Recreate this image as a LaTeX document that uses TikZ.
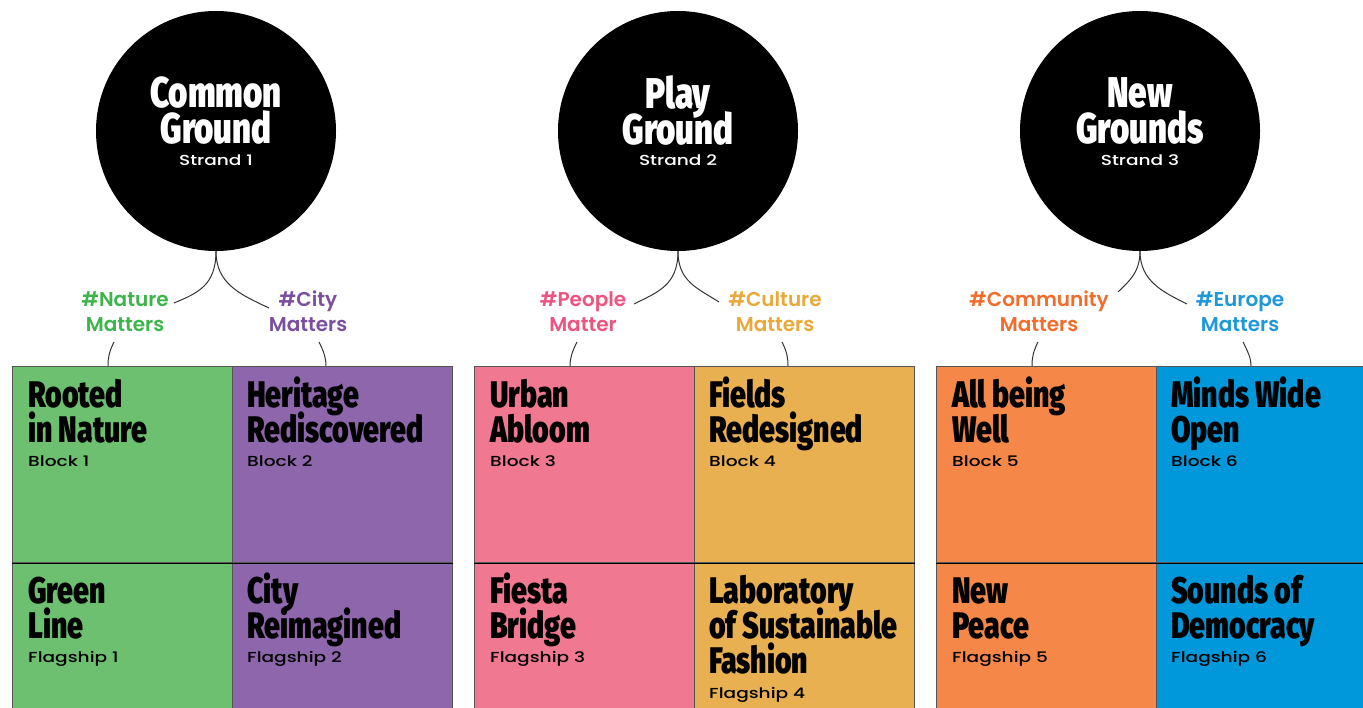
\documentclass[tikz,border=0pt]{standalone}
\usepackage{fontspec}
\setmainfont{Poppins}
\newfontfamily\titlefont[FakeStretch=0.77]{Fira Sans Black}
\newfontfamily\smallfont[FakeStretch=1.28]{Poppins Medium}
\newfontfamily\tagfont{Poppins SemiBold}
\newcommand\myfirst[1]{\rule{0pt}{#1}}
\newcommand\tightlines{\setlength{\lineskiplimit}{-100pt}}
\newcommand\ctfont{\titlefont\fontsize{43}{36}\selectfont\tightlines}
\newcommand\btfont{\titlefont\fontsize{37}{35}\selectfont\tightlines}
\newcommand\tgfont{\tagfont\fontsize{20}{25}\selectfont\tightlines}
\newcommand\sbfont{\smallfont\fontsize{14.5}{16}\selectfont}
\definecolor{fgreen}{HTML}{6CC070}
\definecolor{fpurple}{HTML}{8E66AC}
\definecolor{fpink}{HTML}{F07891}
\definecolor{fyellow}{HTML}{E8B050}
\definecolor{forange}{HTML}{F58848}
\definecolor{fblue}{HTML}{0097DB}
\definecolor{tgreen}{HTML}{3DB54A}
\definecolor{tpurple}{HTML}{7B4FA0}
\definecolor{tpink}{HTML}{EE5480}
\definecolor{tyellow}{HTML}{E9A93A}
\definecolor{torange}{HTML}{F26D2C}
\definecolor{tblue}{HTML}{1E98D8}
\definecolor{edge}{HTML}{555555}
\begin{document}
\begin{tikzpicture}[x=1pt,y=-1pt,
  strand/.style={circle,fill=black,minimum size=240pt,inner sep=0pt},
  ctitle/.style={text=white,align=center,inner sep=0pt,anchor=north,font=\ctfont},
  csub/.style={text=white,inner sep=0pt,anchor=base,font=\sbfont},
  tag/.style={align=center,inner sep=0pt,anchor=north,font=\tgfont},
  cell/.style={draw=edge,line width=1.3pt,minimum width=220pt,inner sep=0pt,anchor=north west},
  btitle/.style={align=left,inner sep=0pt,anchor=north west,font=\btfont},
  bsub/.style={inner sep=0pt,anchor=base west,font=\sbfont},
  conn/.style={draw=black!80,line width=1pt},
  mid/.style={draw=black,line width=1.3pt}]
\useasboundingbox (0,0) rectangle (1363,708);
\clip (0,0) rectangle (1363,708);
\fill[white] (0,0) rectangle (1363,708);

% ---------- cells ----------
\node[cell,fill=fgreen,minimum height=196pt] (b1) at (12,366) {};
\node[cell,fill=fpurple,minimum height=196pt] (b2) at (232,366) {};
\node[cell,fill=fgreen,minimum height=160pt] (f1) at (12,562) {};
\node[cell,fill=fpurple,minimum height=160pt] (f2) at (232,562) {};
\node[cell,fill=fpink,minimum height=196pt] (b3) at (474,366) {};
\node[cell,fill=fyellow,minimum height=196pt] (b4) at (694,366) {};
\node[cell,fill=fpink,minimum height=160pt] (f3) at (474,562) {};
\node[cell,fill=fyellow,minimum height=160pt] (f4) at (694,562) {};
\node[cell,fill=forange,minimum height=196pt] (b5) at (936,366) {};
\node[cell,fill=fblue,minimum height=196pt] (b6) at (1156,366) {};
\node[cell,fill=forange,minimum height=160pt] (f5) at (936,562) {};
\node[cell,fill=fblue,minimum height=160pt] (f6) at (1156,562) {};
\draw[mid] (b1.south west) -- (b2.south east);
\draw[mid] (b3.south west) -- (b4.south east);
\draw[mid] (b5.south west) -- (b6.south east);

% ---------- cell texts ----------
\node[btitle] (t1) at (28,377) {\myfirst{30pt}Rooted\\in Nature};
\node[bsub] (s1) at (28,467) {Block 1};
\node[btitle] (t2) at (247,377) {\myfirst{30pt}Heritage\\Rediscovered};
\node[bsub] (s2) at (247,467) {Block 2};
\node[btitle] (t3) at (490,377) {\myfirst{30pt}Urban\\Abloom};
\node[bsub] (s3) at (490,467) {Block 3};
\node[btitle] (t4) at (709,377) {\myfirst{30pt}Fields\\Redesigned};
\node[bsub] (s4) at (709,467) {Block 4};
\node[btitle] (t5) at (952,377) {\myfirst{30pt}All being\\Well};
\node[bsub] (s5) at (952,467) {Block 5};
\node[btitle] (t6) at (1171,377) {\myfirst{30pt}Minds Wide\\Open};
\node[bsub] (s6) at (1171,467) {Block 6};

\node[btitle] (u1) at (28,573) {\myfirst{30pt}Green\\Line};
\node[bsub] (v1) at (28,662) {Flagship 1};
\node[btitle] (u2) at (247,573) {\myfirst{30pt}City\\Reimagined};
\node[bsub] (v2) at (247,662) {Flagship 2};
\node[btitle] (u3) at (490,573) {\myfirst{30pt}Fiesta\\Bridge};
\node[bsub] (v3) at (490,662) {Flagship 3};
\node[btitle] (u4) at (709,573) {\myfirst{30pt}Laboratory\\of Sustainable\\Fashion};
\node[bsub] (v4) at (709,698) {Flagship 4};
\node[btitle] (u5) at (952,573) {\myfirst{30pt}New\\Peace};
\node[bsub] (v5) at (952,662) {Flagship 5};
\node[btitle] (u6) at (1171,573) {\myfirst{30pt}Sounds of\\Democracy};
\node[bsub] (v6) at (1171,662) {Flagship 6};

% ---------- strands ----------
\node[strand] (c1) at (216,131) {};
\node[strand] (c2) at (678,131) {};
\node[strand] (c3) at (1140,131) {};
\node[ctitle] (c1t) at (216,75) {\myfirst{32pt}Common\\Ground};
\node[csub] (c1s) at (216,166) {Strand 1};
\node[ctitle] (c2t) at (678,75) {\myfirst{32pt}Play\\Ground};
\node[csub] (c2s) at (678,166) {Strand 2};
\node[ctitle] (c3t) at (1140,75) {\myfirst{32pt}New\\Grounds};
\node[csub] (c3s) at (1140,166) {Strand 3};

% ---------- tags ----------
\node[tag,text=tgreen] (g1) at (125,290) {\myfirst{16pt}\#Nature\\Matters};
\node[tag,text=tpurple] (g2) at (308,290) {\myfirst{16pt}\#City\\Matters};
\node[tag,text=tpink] (g3) at (583,290) {\myfirst{16pt}\#People\\Matter};
\node[tag,text=tyellow] (g4) at (775,290) {\myfirst{16pt}\#Culture\\Matters};
\node[tag,text=torange] (g5) at (1039,290) {\myfirst{16pt}\#Community\\Matters};
\node[tag,text=tblue] (g6) at (1240,290) {\myfirst{16pt}\#Europe\\Matters};

% ---------- connector end points ----------
\coordinate (e1) at (174,303);
\coordinate (e2) at (269,308);
\coordinate (e3) at (634,304);
\coordinate (e4) at (719,302);
\coordinate (e5) at (1118,292);
\coordinate (e6) at (1187,304);
\coordinate (l1) at (114,342);
\coordinate (l2) at (319,342);
\coordinate (l3) at (577,342);
\coordinate (l4) at (782,342);
\coordinate (l5) at (1038,342);
\coordinate (l6) at (1243,342);
\coordinate (k1) at (108,366);
\coordinate (k2) at (326,366);
\coordinate (k3) at (570,366);
\coordinate (k4) at (788,366);
\coordinate (k5) at (1032,366);
\coordinate (k6) at (1251,366);

% ---------- connectors ----------
\draw[conn] (c1.south) .. controls +(0,34) and +(24,-10) .. (e1);
\draw[conn] (c1.south) .. controls +(0,32) and +(-30,-14) .. (e2);
\draw[conn] (c2.south) .. controls +(0,34) and +(24,-12) .. (e3);
\draw[conn] (c2.south) .. controls +(0,30) and +(-22,-14) .. (e4);
\draw[conn] (c3.south) .. controls +(0,22) and +(10,-10) .. (e5);
\draw[conn] (c3.south) .. controls +(0,30) and +(-24,-12) .. (e6);
\draw[conn] (l1) .. controls +(-5,10) and +(0,-8) .. (k1);
\draw[conn] (l2) .. controls +(5,10) and +(0,-8) .. (k2);
\draw[conn] (l3) .. controls +(-5,10) and +(0,-8) .. (k3);
\draw[conn] (l4) .. controls +(5,10) and +(0,-8) .. (k4);
\draw[conn] (l5) .. controls +(-5,10) and +(0,-8) .. (k5);
\draw[conn] (l6) .. controls +(5,10) and +(0,-8) .. (k6);
\end{tikzpicture}
\end{document}
